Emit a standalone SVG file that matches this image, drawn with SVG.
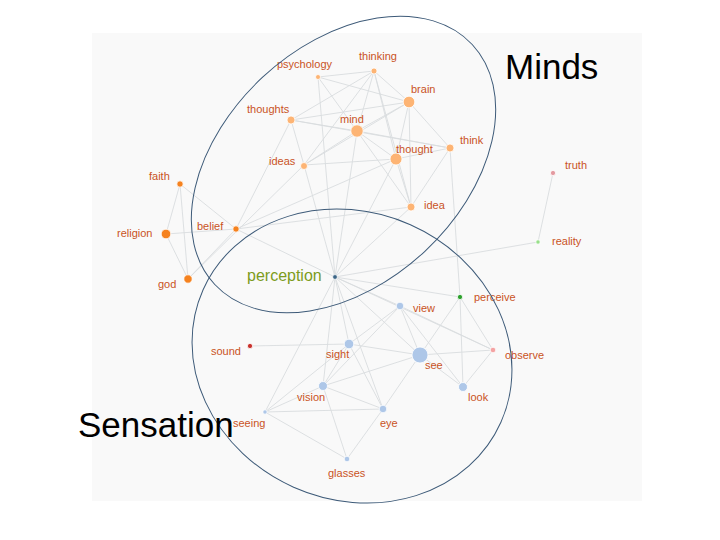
<svg xmlns="http://www.w3.org/2000/svg" width="720" height="540" viewBox="0 0 720 540">
<style>
text{font-family:"Liberation Sans",Arial,sans-serif}
.lbl{font-size:11px;fill:#c9531e}
.big{font-size:35px;fill:#000}
.e line{stroke:#d9dcdf;stroke-width:0.9}
.n circle{stroke:#fff;stroke-width:0.8}
.m{fill:#fdb474}
.r{fill:#f5821f}
.v{fill:#aec7e8}
.ring{fill:none;stroke:#3d5a78;stroke-width:1}
</style>
<rect x="0" y="0" width="720" height="540" fill="#fff"/>
<rect x="92" y="33" width="550" height="468" fill="#f9f9f9"/>
<g id="edges" class="e">
<line x1="318" y1="77" x2="374" y2="71"/>
<line x1="318" y1="77" x2="409" y2="102"/>
<line x1="318" y1="77" x2="357" y2="131"/>
<line x1="318" y1="77" x2="335" y2="277"/>
<line x1="374" y1="71" x2="291" y2="120"/>
<line x1="374" y1="71" x2="357" y2="131"/>
<line x1="374" y1="71" x2="409" y2="102"/>
<line x1="374" y1="71" x2="396" y2="159"/>
<line x1="374" y1="71" x2="411" y2="207"/>
<line x1="374" y1="71" x2="304" y2="165"/>
<line x1="409" y1="102" x2="291" y2="120"/>
<line x1="409" y1="102" x2="357" y2="131"/>
<line x1="409" y1="102" x2="304" y2="165"/>
<line x1="409" y1="102" x2="396" y2="159"/>
<line x1="409" y1="102" x2="450" y2="148"/>
<line x1="409" y1="102" x2="411" y2="207"/>
<line x1="357" y1="131" x2="291" y2="120"/>
<line x1="357" y1="131" x2="450" y2="148"/>
<line x1="357" y1="131" x2="396" y2="159"/>
<line x1="357" y1="131" x2="411" y2="207"/>
<line x1="357" y1="131" x2="304" y2="165"/>
<line x1="357" y1="131" x2="335" y2="277"/>
<line x1="291" y1="120" x2="450" y2="148"/>
<line x1="291" y1="120" x2="304" y2="165"/>
<line x1="291" y1="120" x2="236" y2="229"/>
<line x1="396" y1="159" x2="304" y2="165"/>
<line x1="396" y1="159" x2="450" y2="148"/>
<line x1="396" y1="159" x2="411" y2="207"/>
<line x1="396" y1="159" x2="236" y2="229"/>
<line x1="396" y1="159" x2="335" y2="277"/>
<line x1="450" y1="148" x2="411" y2="207"/>
<line x1="450" y1="148" x2="460" y2="297"/>
<line x1="411" y1="207" x2="236" y2="229"/>
<line x1="411" y1="207" x2="335" y2="277"/>
<line x1="304" y1="165" x2="335" y2="277"/>
<line x1="304" y1="165" x2="188" y2="279"/>
<line x1="180" y1="184" x2="166" y2="234"/>
<line x1="180" y1="184" x2="188" y2="279"/>
<line x1="180" y1="184" x2="236" y2="229"/>
<line x1="166" y1="234" x2="236" y2="229"/>
<line x1="166" y1="234" x2="188" y2="279"/>
<line x1="188" y1="279" x2="236" y2="229"/>
<line x1="236" y1="229" x2="335" y2="277"/>
<line x1="553" y1="173" x2="538" y2="242"/>
<line x1="538" y1="242" x2="335" y2="277"/>
<line x1="335" y1="277" x2="400" y2="306"/>
<line x1="335" y1="277" x2="349" y2="344"/>
<line x1="335" y1="277" x2="420" y2="355"/>
<line x1="335" y1="277" x2="460" y2="297"/>
<line x1="335" y1="277" x2="323" y2="386"/>
<line x1="335" y1="277" x2="265" y2="412"/>
<line x1="335" y1="277" x2="383" y2="409"/>
<line x1="335" y1="277" x2="493" y2="350"/>
<line x1="400" y1="306" x2="420" y2="355"/>
<line x1="400" y1="306" x2="349" y2="344"/>
<line x1="400" y1="306" x2="463" y2="387"/>
<line x1="400" y1="306" x2="493" y2="350"/>
<line x1="400" y1="306" x2="323" y2="386"/>
<line x1="349" y1="344" x2="420" y2="355"/>
<line x1="349" y1="344" x2="323" y2="386"/>
<line x1="349" y1="344" x2="383" y2="409"/>
<line x1="349" y1="344" x2="265" y2="412"/>
<line x1="349" y1="344" x2="250" y2="346"/>
<line x1="420" y1="355" x2="463" y2="387"/>
<line x1="420" y1="355" x2="383" y2="409"/>
<line x1="420" y1="355" x2="323" y2="386"/>
<line x1="420" y1="355" x2="493" y2="350"/>
<line x1="420" y1="355" x2="460" y2="297"/>
<line x1="323" y1="386" x2="265" y2="412"/>
<line x1="323" y1="386" x2="383" y2="409"/>
<line x1="323" y1="386" x2="347" y2="459"/>
<line x1="265" y1="412" x2="383" y2="409"/>
<line x1="265" y1="412" x2="347" y2="459"/>
<line x1="383" y1="409" x2="347" y2="459"/>
<line x1="463" y1="387" x2="460" y2="297"/>
<line x1="463" y1="387" x2="493" y2="350"/>
<line x1="460" y1="297" x2="493" y2="350"/>
</g>
<g id="n-psychology" class="n"><circle class="m" cx="318" cy="77" r="2.5"/><text class="lbl" x="277" y="68">psychology</text></g>
<g id="n-thinking" class="n"><circle class="m" cx="374" cy="71" r="3"/><text class="lbl" x="359" y="60">thinking</text></g>
<g id="n-brain" class="n"><circle class="m" cx="409" cy="102" r="5.8"/><text class="lbl" x="411" y="93">brain</text></g>
<g id="n-mind" class="n"><circle class="m" cx="357" cy="131" r="6.2"/><text class="lbl" x="340" y="123">mind</text></g>
<g id="n-thoughts" class="n"><circle class="m" cx="291" cy="120" r="4"/><text class="lbl" x="247" y="113">thoughts</text></g>
<g id="n-thought" class="n"><circle class="m" cx="396" cy="159" r="6"/><text class="lbl" x="396" y="153">thought</text></g>
<g id="n-think" class="n"><circle class="m" cx="450" cy="148" r="4"/><text class="lbl" x="460" y="144">think</text></g>
<g id="n-ideas" class="n"><circle class="m" cx="304" cy="166" r="3.5"/><text class="lbl" x="269" y="165">ideas</text></g>
<g id="n-idea" class="n"><circle class="m" cx="411" cy="207" r="4"/><text class="lbl" x="424" y="209">idea</text></g>
<g id="n-faith" class="n"><circle class="r" cx="180" cy="184" r="3.2"/><text class="lbl" x="149" y="180">faith</text></g>
<g id="n-religion" class="n"><circle class="r" cx="166" cy="234" r="4.8"/><text class="lbl" x="117" y="237">religion</text></g>
<g id="n-belief" class="n"><circle class="r" cx="236" cy="229" r="3.2"/><text class="lbl" x="197" y="230">belief</text></g>
<g id="n-god" class="n"><circle class="r" cx="188" cy="279" r="4.2"/><text class="lbl" x="158" y="288">god</text></g>
<g id="n-perception" class="n"><circle cx="335" cy="277" r="2.4" fill="#3b6586"/><text x="247" y="281" font-size="16" fill="#7d9c1c">perception</text></g>
<g id="n-truth" class="n"><circle cx="553" cy="173" r="2.6" fill="#e39aa0"/><text class="lbl" x="565" y="169">truth</text></g>
<g id="n-reality" class="n"><circle cx="538" cy="242" r="2.2" fill="#98df8a"/><text class="lbl" x="552" y="245">reality</text></g>
<g id="n-perceive" class="n"><circle cx="460" cy="297" r="2.6" fill="#2ca02c"/><text class="lbl" x="474" y="301">perceive</text></g>
<g id="n-view" class="n"><circle class="v" cx="400" cy="306" r="3.8"/><text class="lbl" x="413" y="312">view</text></g>
<g id="n-sound" class="n"><circle cx="250" cy="346" r="2.6" fill="#c8312c"/><text class="lbl" x="211" y="355">sound</text></g>
<g id="n-sight" class="n"><circle class="v" cx="349" cy="344" r="4.8"/><text class="lbl" x="326" y="358">sight</text></g>
<g id="n-see" class="n"><circle class="v" cx="420" cy="355" r="8"/><text class="lbl" x="425" y="369">see</text></g>
<g id="n-observe" class="n"><circle cx="493" cy="350" r="2.8" fill="#f4a3a3"/><text class="lbl" x="505" y="359">observe</text></g>
<g id="n-vision" class="n"><circle class="v" cx="323" cy="386" r="4.5"/><text class="lbl" x="297" y="401">vision</text></g>
<g id="n-look" class="n"><circle class="v" cx="463" cy="387" r="4.5"/><text class="lbl" x="468" y="401">look</text></g>
<g id="n-seeing" class="n"><circle class="v" cx="265" cy="412" r="2.2"/><text class="lbl" x="233" y="427">seeing</text></g>
<g id="n-eye" class="n"><circle class="v" cx="383" cy="409" r="3.8"/><text class="lbl" x="380" y="427">eye</text></g>
<g id="n-glasses" class="n"><circle class="v" cx="347" cy="459" r="2.8"/><text class="lbl" x="328" y="477">glasses</text></g>
<g id="minds">
<ellipse class="ring" cx="343.5" cy="164.5" rx="176" ry="119" transform="rotate(-43 343.5 164.5)"/>
<text class="big" x="505" y="79">Minds</text>
</g>
<g id="sensation">
<ellipse class="ring" cx="352" cy="356" rx="163" ry="143.6" transform="rotate(24 352 356)"/>
<text class="big" x="78" y="437">Sensation</text>
</g>
</svg>
